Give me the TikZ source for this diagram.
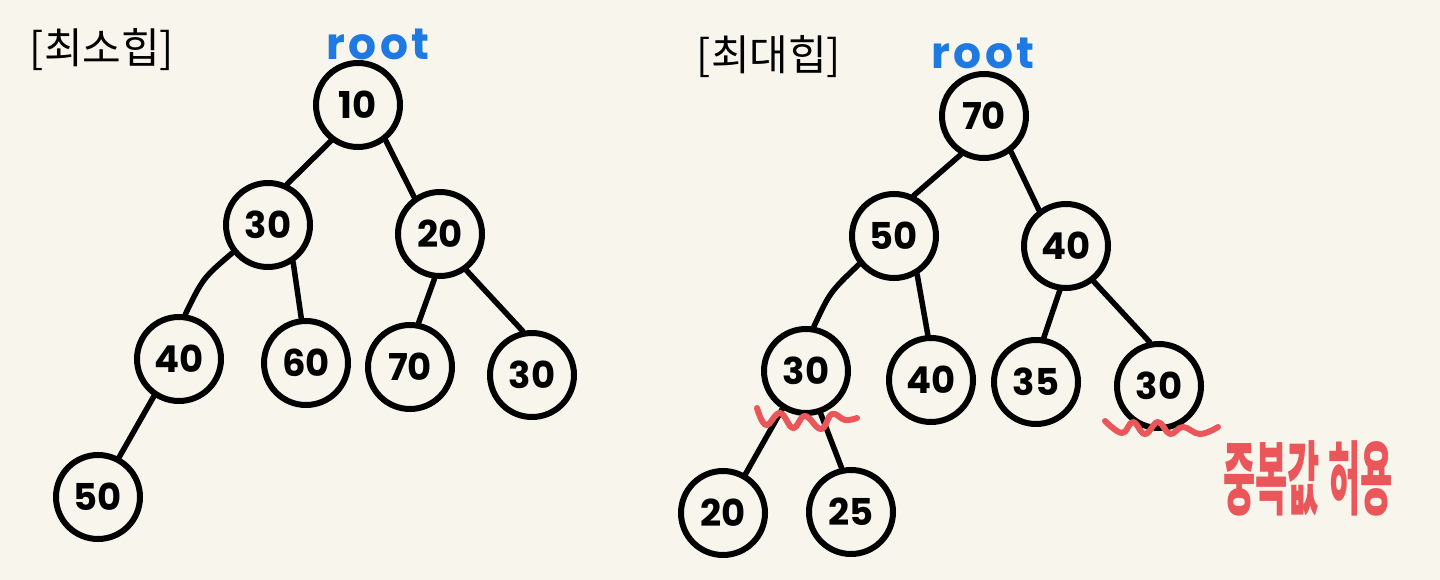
\documentclass[tikz,border=0pt]{standalone}
\usepackage{fontspec}
\usepackage{graphicx}
\setmainfont{Poppins}
\newfontfamily\krfont{Noto Sans CJK KR}
\definecolor{bgcream}{RGB}{248,246,236}
\definecolor{rootblue}{RGB}{30,122,226}
\definecolor{markred}{RGB}{234,86,90}
\tikzset{
  hn/.style={circle, draw=black, line width=6pt, minimum size=84pt, inner sep=0pt,
    font=\bfseries\fontsize{37}{37}\selectfont},
  edgeline/.style={line width=5.5pt, line cap=round},
  squig/.style={draw=markred, line width=6pt, line cap=round, line join=round},
  rootlbl/.style={text=rootblue, font=\bfseries\fontsize{44}{44}\selectfont\addfontfeatures{LetterSpace=8}},
  titlelbl/.style={font=\krfont\fontsize{42}{42}\selectfont},
}
\begin{document}
\begin{tikzpicture}[x=1pt,y=-1pt]
\fill[bgcream] (0,0) rectangle (1440,580);
\useasboundingbox (0,0) rectangle (1440,580);

% titles
\node[titlelbl] (tmin) at (102,50) {[최소힙]};
\node[titlelbl] (tmax) at (769,57) {[최대힙]};
\node[rootlbl] (rootL) at (378,44) {root};
\node[rootlbl] (rootR) at (983,53) {root};

% min heap
\node[hn] (a10) at (358,105) {10};
\node[hn] (a30) at (268,225) {30};
\node[hn] (a20) at (440,234) {20};
\node[hn] (a40) at (179,359) {40};
\node[hn] (a60) at (306,363) {60};
\node[hn] (a70) at (410,367) {70};
\node[hn] (a30b) at (532,375) {30};
\node[hn] (a50) at (98,497) {50};

\draw[edgeline] (a10.-127) -- (a30.65);
\draw[edgeline] (a10.-52) -- (a20.125);
\draw[edgeline] (a30.-142) .. controls (203,278) .. (a40.82);
\draw[edgeline] (a30.-56) -- (a60.96);
\draw[edgeline] (a20.-97) -- (a70.79);
\draw[edgeline] (a20.-54) -- (a30b.102);
\draw[edgeline] (a40.-124) -- (a50.62);

% max heap
\node[hn] (b70) at (984,116) {70};
\node[hn] (b50) at (894,236) {50};
\node[hn] (b40) at (1066,246) {40};
\node[hn] (b30) at (806,371) {30};
\node[hn] (b40b) at (931,380) {40};
\node[hn] (b35) at (1036,382) {35};
\node[hn] (b30b) at (1159,386) {30};
\node[hn] (b20) at (723,513) {20};
\node[hn] (b25) at (851,512) {25};

\draw[edgeline] (b70.-121) -- (b50.64);
\draw[edgeline] (b70.-53) -- (b40.127);
\draw[edgeline] (b50.-141) .. controls (830,292) .. (b30.80);
\draw[edgeline] (b50.-59) -- (b40b.94);
\draw[edgeline] (b40.-98) -- (b35.80);
\draw[edgeline] (b40.-52) -- (b30b.102);
\draw[edgeline] (b30.-122) -- (b20.60);
\draw[edgeline] (b30.-71) -- (b25.102);

% red marks
\draw[squig] plot[smooth, tension=0.7] coordinates {(757,408) (766,425) (780,413) (793,428) (805,416) (821,429) (832,414) (845,420) (857,418)};
\draw[squig] plot[smooth, tension=0.7] coordinates {(1105,421) (1122,433) (1133,422) (1145,434) (1158,422) (1170,434) (1183,427) (1200,434) (1218,427)};
\node[text=markred, font=\krfont\bfseries\fontsize{35}{35}\selectfont] (dup) at (1308,478) {\scalebox{1}[2.3]{중복값 허용}};
\end{tikzpicture}
\end{document}
